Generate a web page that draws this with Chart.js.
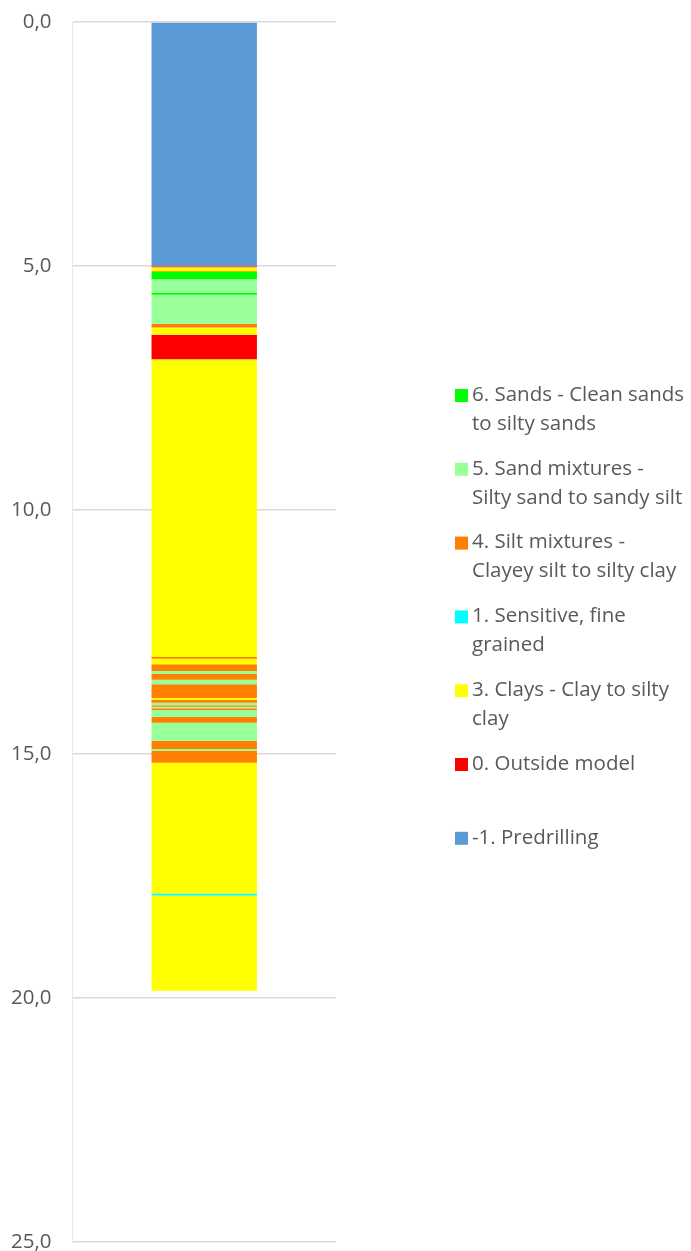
<!DOCTYPE html>
<html>
<head>
<meta charset="utf-8">
<script src="https://cdn.jsdelivr.net/npm/chart.js@4.4.1/dist/chart.umd.min.js"></script>
<style>
  html, body { margin: 0; padding: 0; background: #fff; overflow: hidden; }
  canvas { display: block; }
</style>
</head>
<body>
<canvas id="soilChart" width="691" height="1251"></canvas>
<script>
// Soil classes (legend order)
const classCodes = [6, 5, 4, 1, 3, 0, -1];
const classLabels = [
  ["6. Sands - Clean sands", "to silty sands"],
  ["5. Sand mixtures -", "Silty sand to sandy silt"],
  ["4. Silt mixtures -", "Clayey silt to silty clay"],
  ["1. Sensitive, fine", "grained"],
  ["3. Clays - Clay to silty", "clay"],
  ["0. Outside model"],
  ["-1. Predrilling"]
];
const classColors = ["#00ff00", "#99ff99", "#ff8000", "#00ffff", "#ffff00", "#ff0000", "#5b9bd5"];

// Layers from top to bottom: class and depth of layer bottom (m)
const layerClass = [
  -1, 0, 1, 4, 3, 4, 6, 5, 6, 5, 4, 3, 0,
  3, 4, 3, 4, 5, 4, 5, 4, 3, 4, 5, 4, 5, 4, 5, 4, 5, 4, 5, 4,
  3, 1, 3
];
const layerBottom = [
  4.99, 5.01, 5.02, 5.03, 5.10, 5.12, 5.27, 5.55, 5.59, 6.19, 6.26, 6.41, 6.91,
  13.01, 13.05, 13.16, 13.30, 13.36, 13.48, 13.57, 13.85, 13.89, 13.95, 14.00, 14.03, 14.06,
  14.10, 14.24, 14.36, 14.73, 14.90, 14.94, 15.18,
  17.86, 17.90, 19.85
];
const depthTicks = [0, 5, 10, 15, 20, 25];

const colorOf = code => classColors[classCodes.indexOf(code)];

const datasets = layerClass.map((code, i) => ({
  label: 'layer ' + (i + 1),
  data: [layerBottom[i] - (i ? layerBottom[i - 1] : 0)],
  backgroundColor: colorOf(code),
  borderWidth: 0,
  stack: 'cpt'
}));

const FONT = '"Open Sans", "DejaVu Sans", sans-serif';

// legend drawn at the right like the spreadsheet one
const sideLegend = {
  id: 'sideLegend',
  afterDraw(chart) {
    const ctx = chart.ctx;
    ctx.save();
    ctx.font = '20.5px ' + FONT;
    ctx.textBaseline = 'middle';
    classLabels.forEach((lines, i) => {
      const y = 395 + i * 73.8;
      ctx.fillStyle = classColors[i];
      ctx.fillRect(455, y - 6, 13, 13);
      ctx.fillStyle = '#595959';
      lines.forEach((t, j) => ctx.fillText(t, 472, y + j * 29));
    });
    ctx.restore();
  }
};

new Chart(document.getElementById('soilChart'), {
  type: 'bar',
  data: { labels: ['CPT'], datasets: datasets },
  plugins: [sideLegend],
  options: {
    responsive: false,
    animation: false,
    layout: { padding: { left: -10, right: 355, top: 22, bottom: 9 } },
    datasets: { bar: { categoryPercentage: 1, barPercentage: 0.4 } },
    plugins: {
      legend: { display: false },
      tooltip: { enabled: false }
    },
    scales: {
      x: { stacked: true, display: false },
      y: {
        stacked: true,
        reverse: true,
        min: 0,
        max: 25,
        afterBuildTicks: axis => { axis.ticks = depthTicks.map(v => ({ value: v })); },
        afterFit: axis => { axis.paddingTop = 0; axis.paddingBottom = 0; },
        ticks: {
          color: '#595959',
          font: { family: FONT, size: 20.5 },
          padding: 21,
          callback: v => v.toFixed(1).replace('.', ',')
        },
        grid: { color: '#d9d9d9', lineWidth: 1.5, drawTicks: false },
        border: { color: '#e6e6e6' }
      }
    }
  }
});
</script>
</body>
</html>
